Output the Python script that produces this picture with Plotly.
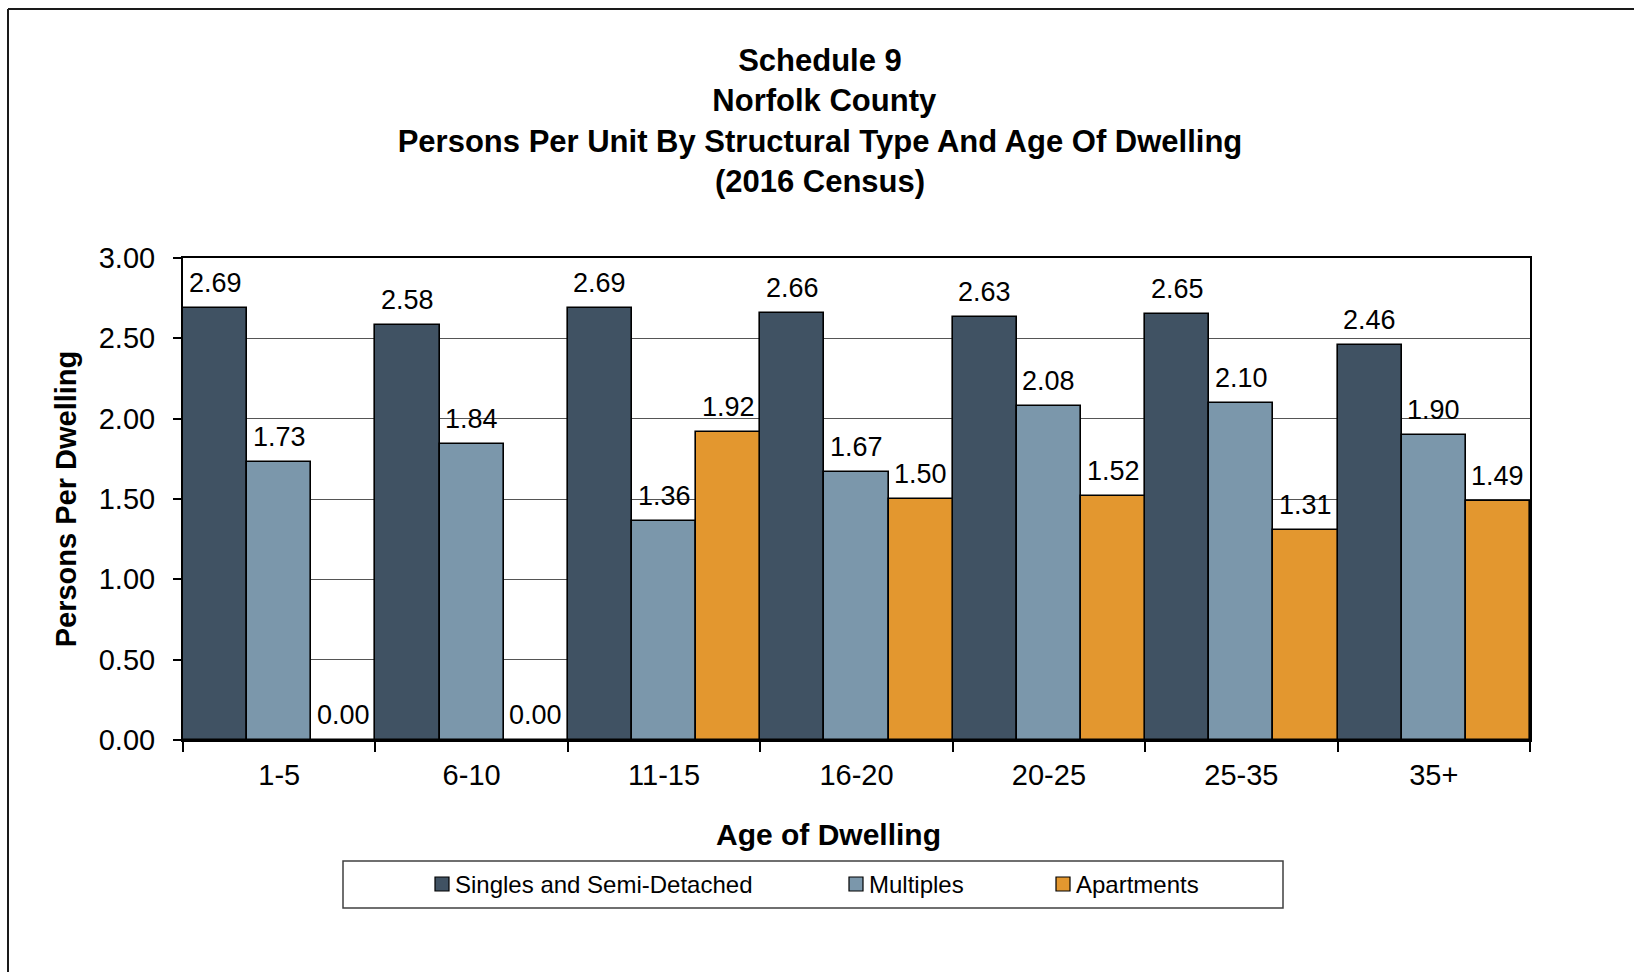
import plotly.graph_objects as go

# Age-of-dwelling categories and persons-per-unit by structural type
age_groups = ["1-5", "6-10", "11-15", "16-20", "20-25", "25-35", "35+"]
singles = [2.69, 2.58, 2.69, 2.66, 2.63, 2.65, 2.46]
multiples = [1.73, 1.84, 1.36, 1.67, 2.08, 2.10, 1.90]
apartments = [0.00, 0.00, 1.92, 1.50, 1.52, 1.31, 1.49]

series_names = ["Singles and Semi-Detached", "Multiples", "Apartments"]
series_colors = ["#405263", "#7B97AB", "#E3972F"]
series_values = [singles, multiples, apartments]

FONT = "Liberation Sans, Arial, sans-serif"
W, H = 1634, 972
L, R, T, B = 183, 104, 258, 232
plot_w = W - L - R
plot_h = H - T - B


def px_x(px):
    return (px - L) / plot_w


def px_y(py):
    return (H - B - py) / plot_h


fig = go.Figure()
for name, color, vals in zip(series_names, series_colors, series_values):
    fig.add_trace(go.Bar(
        x=age_groups, y=vals, name=name,
        marker=dict(color=color, line=dict(color="#000000", width=1.6)),
        showlegend=False,
    ))

# value labels above each bar
bar_w = plot_w / len(age_groups) / len(series_values)
annotations = []
for j, vals in enumerate(series_values):
    for cat, v in zip(age_groups, vals):
        annotations.append(dict(
            x=cat, y=v, xref="x", yref="y", text=f"{v:.2f}",
            showarrow=False, xanchor="center", yanchor="bottom",
            xshift=(j - 1) * bar_w, yshift=8,
            font=dict(family=FONT, size=27, color="#000000"),
        ))

# x-axis title
annotations.append(dict(
    x=px_x(828), y=px_y(834), xref="paper", yref="paper",
    text="<b>Age of Dwelling</b>", showarrow=False,
    xanchor="center", yanchor="middle",
    font=dict(family=FONT, size=30, color="#000000"),
))

# legend drawn as boxed swatches with labels
shapes = []
legend_box = (343, 861, 1283, 908)
shapes.append(dict(type="rect", xref="paper", yref="paper",
                   x0=px_x(legend_box[0]), x1=px_x(legend_box[2]),
                   y0=px_y(legend_box[1]), y1=px_y(legend_box[3]),
                   line=dict(color="#404040", width=1.5), fillcolor="white"))
legend_x = [435, 849, 1056]
legend_cy = 884
for name, color, lx in zip(series_names, series_colors, legend_x):
    shapes.append(dict(type="rect", xref="paper", yref="paper",
                       x0=px_x(lx), x1=px_x(lx + 14),
                       y0=px_y(legend_cy - 7), y1=px_y(legend_cy + 7),
                       line=dict(color="#000000", width=1.2), fillcolor=color))
    annotations.append(dict(
        x=px_x(lx + 18), y=px_y(legend_cy), xref="paper", yref="paper",
        text=name, showarrow=False, xanchor="left", yanchor="middle",
        font=dict(family=FONT, size=24, color="#000000"),
    ))

# outer chart frame (top and left edges visible)
shapes.append(dict(type="line", xref="paper", yref="paper",
                   x0=px_x(8), x1=px_x(W + 20), y0=px_y(9), y1=px_y(9),
                   line=dict(color="#1a1a1a", width=2)))
shapes.append(dict(type="line", xref="paper", yref="paper",
                   x0=px_x(8), x1=px_x(8), y0=px_y(9), y1=px_y(H + 20),
                   line=dict(color="#1a1a1a", width=2)))

fig.update_layout(
    width=W, height=H,
    margin=dict(l=L, r=R, t=T, b=B),
    paper_bgcolor="white", plot_bgcolor="white",
    barmode="group", bargap=0, bargroupgap=0,
    font=dict(family=FONT, color="#000000"),
    title=dict(
        text="<b>Schedule 9</b><br><b> Norfolk County</b><br>"
             "<b>Persons Per Unit By Structural Type And Age Of Dwelling</b><br>"
             "<b>(2016 Census)</b>",
        x=820 / W, xref="container", xanchor="center",
        y=1 - 71 / H, yref="container", yanchor="top",
        font=dict(family=FONT, size=31, color="#000000"),
    ),
    xaxis=dict(
        type="category", tickson="boundaries", ticks="outside", ticklen=10,
        tickcolor="#000000", tickwidth=1.5,
        showline=True, linecolor="#000000", linewidth=2, mirror=True,
        tickfont=dict(family=FONT, size=29, color="#000000"),
        ticklabelstandoff=8,
    ),
    yaxis=dict(
        range=[0, 3], dtick=0.5, tick0=0, tickformat=".2f",
        ticks="outside", ticklen=8, tickcolor="#000000", tickwidth=1.5,
        showline=True, linecolor="#000000", linewidth=2, mirror=True,
        showgrid=True, gridcolor="#555555", gridwidth=1.2,
        zeroline=False,
        tickfont=dict(family=FONT, size=29, color="#000000"),
        ticklabelstandoff=12,
        title=dict(text="<b>Persons Per Dwelling</b>", standoff=14,
                   font=dict(family=FONT, size=29, color="#000000")),
    ),
    annotations=annotations,
    shapes=shapes,
)

fig.write_html("out.html")
